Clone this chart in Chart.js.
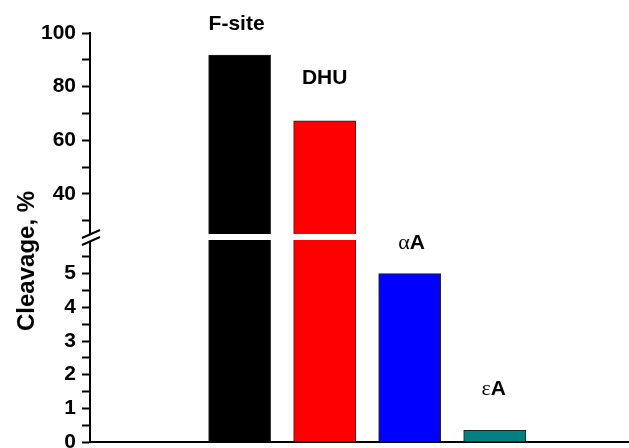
<!DOCTYPE html>
<html>
<head>
<meta charset="utf-8">
<script src="https://cdn.jsdelivr.net/npm/chart.js@4"></script>
<style>
  html, body { margin: 0; padding: 0; background: #fff; }
  #wrap { position: relative; width: 629px; height: 448px; overflow: hidden; }
  #wrap canvas { position: absolute; left: 0; top: 0; }
  #ytitle {
    position: absolute; left: 26px; top: 261px;
    transform: translate(-50%, -50%) rotate(-90deg);
    font: bold 24px Arial, "Liberation Sans", sans-serif;
    white-space: nowrap; color: #000;
  }
</style>
</head>
<body>
<div id="wrap">
  <canvas id="lower" width="629" height="448"></canvas>
  <canvas id="upper" width="629" height="448"></canvas>
  <div id="ytitle">Cleavage, %</div>
</div>
<script>
// data
const categories = ['F-site', 'DHU', 'αA', 'εA'];
const positions = [1, 2, 3, 4];
const cleavage = [91.8, 67.2, 5.0, 0.35];
const barColors = ['#000000', '#ff0000', '#0000ff', '#008080'];
const upperTicks = [40, 60, 80, 100];
const lowerTicks = [0, 1, 2, 3, 4, 5];

// label placement above each bar (px)
const labelLift = [25, 37, 25, 35];
const labelShift = [-3, 0, 2, -1];

const FONT = 'Arial, "Liberation Sans", sans-serif';
const LABEL_FONT = 'bold 21px ' + FONT;
const GREEK_FONT = '22px "Liberation Serif", "DejaVu Serif", serif';

// greek prefix is set in a plain serif face, the rest bold sans
function drawLabel(ctx, text, x, y) {
  const parts = /^[α-ω]/.test(text) ? [[text[0], GREEK_FONT], [text.slice(1), LABEL_FONT]] : [[text, LABEL_FONT]];
  let total = 0;
  parts.forEach(p => { ctx.font = p[1]; total += ctx.measureText(p[0]).width; });
  let cx = x - total / 2;
  parts.forEach(p => {
    ctx.font = p[1];
    ctx.fillText(p[0], cx, y);
    cx += ctx.measureText(p[0]).width;
  });
}

const barLabels = {
  id: 'barLabels',
  afterDatasetsDraw(chart) {
    const { ctx, scales: { y } } = chart;
    const meta = chart.getDatasetMeta(0);
    ctx.save();
    ctx.fillStyle = '#000';
    ctx.textAlign = 'left';
    ctx.textBaseline = 'alphabetic';
    meta.data.forEach((bar, i) => {
      const v = cleavage[i];
      if (v < y.min || v > y.max) return;
      drawLabel(ctx, categories[i], bar.x + labelShift[i], bar.y - labelLift[i]);
    });
    ctx.restore();
  }
};

// axis break marks, drawn on the upper canvas so they sit on top
const axisBreak = {
  id: 'axisBreak',
  afterDraw(chart) {
    const { ctx, chartArea } = chart;
    const cx = chartArea.left, cy = chartArea.bottom + 3;
    ctx.save();
    ctx.fillStyle = '#fff';
    ctx.beginPath();
    ctx.moveTo(cx - 8, cy + 1);
    ctx.lineTo(cx + 10, cy - 7);
    ctx.lineTo(cx + 10, cy);
    ctx.lineTo(cx - 8, cy + 8);
    ctx.closePath();
    ctx.fill();
    ctx.strokeStyle = '#000';
    ctx.lineWidth = 2;
    ctx.beginPath();
    ctx.moveTo(cx - 8, cy + 1); ctx.lineTo(cx + 10, cy - 7);
    ctx.moveTo(cx - 8, cy + 8); ctx.lineTo(cx + 10, cy);
    ctx.stroke();
    ctx.restore();
  }
};

function makeChart(id, opts) {
  return new Chart(document.getElementById(id), {
    type: 'bar',
    data: {
      datasets: [{
        data: positions.map((p, i) => ({ x: p, y: cleavage[i] })),
        backgroundColor: barColors,
        borderColor: '#222',
        borderWidth: 1,
        barThickness: 62,
        clip: 0
      }]
    },
    options: {
      responsive: false,
      animation: false,
      events: [],
      layout: { padding: opts.padding },
      plugins: { legend: { display: false }, tooltip: { enabled: false } },
      scales: {
        x: {
          type: 'linear',
          offset: false,
          min: -0.76,
          max: 5.58,
          display: opts.showX,
          ticks: { display: false },
          grid: { display: false },
          border: { display: true, color: '#000', width: 2 },
          afterFit: s => {
            s.height = opts.showX ? 6 : 0;
            s.paddingLeft = 0; s.paddingRight = 0;
          }
        },
        y: {
          min: opts.min,
          max: opts.max,
          ticks: {
            stepSize: opts.step,
            maxTicksLimit: 50,
            autoSkip: false,
            padding: 6,
            color: '#000',
            font: { family: FONT, size: 21, weight: 'bold' },
            callback: v => opts.labels.includes(v) ? String(v) : ''
          },
          grid: {
            drawOnChartArea: false,
            drawTicks: true,
            tickLength: 8,
            tickWidth: 2,
            tickColor: c => opts.minor(c.tick.value) ? '#000' : 'rgba(0,0,0,0)'
          },
          border: { display: true, color: '#000', width: 2 },
          afterFit: s => { s.width = 90; s.paddingTop = 0; s.paddingBottom = 0; }
        }
      }
    },
    plugins: opts.plugins
  });
}

makeChart('lower', {
  padding: { top: 240, bottom: 0, left: 0, right: 0 },
  showX: true,
  min: 0, max: 6, step: 0.5,
  labels: lowerTicks,
  minor: v => v <= 5.5,
  plugins: [barLabels]
});

makeChart('upper', {
  padding: { top: 33, bottom: 214, left: 0, right: 0 },
  showX: false,
  min: 25, max: 100, step: 5,
  labels: upperTicks,
  minor: v => v % 10 === 0,
  plugins: [barLabels, axisBreak]
});
</script>
</body>
</html>
